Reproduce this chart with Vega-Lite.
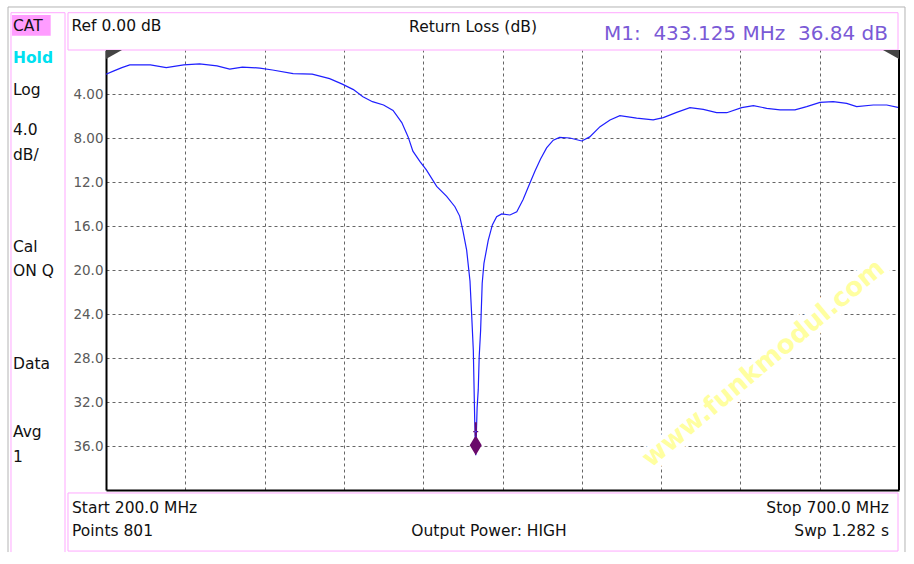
{
  "$schema": "https://vega.github.io/schema/vega-lite/v6.json",
  "width": 793,
  "height": 440,
  "autosize": {"type": "none"},
  "padding": {"left": 106, "top": 50, "right": 15, "bottom": 74},
  "background": "white",
  "config": {"view": {"stroke": null}, "font": "DejaVu Sans"},
  "datasets": {
    "trace": [
      {"f": 200, "db": 2.2}, {"f": 205, "db": 1.9}, {"f": 210, "db": 1.6}, {"f": 215, "db": 1.36},
      {"f": 228, "db": 1.36}, {"f": 238, "db": 1.6}, {"f": 249, "db": 1.36}, {"f": 259, "db": 1.27},
      {"f": 270, "db": 1.45}, {"f": 278, "db": 1.73}, {"f": 286, "db": 1.55}, {"f": 297, "db": 1.64},
      {"f": 305, "db": 1.82}, {"f": 318, "db": 2.15}, {"f": 330, "db": 2.2}, {"f": 341, "db": 2.6},
      {"f": 349, "db": 3.1}, {"f": 356, "db": 3.6}, {"f": 362, "db": 4.25}, {"f": 368, "db": 4.7},
      {"f": 375, "db": 5.0}, {"f": 381, "db": 5.5}, {"f": 386.5, "db": 6.6}, {"f": 390.5, "db": 7.9},
      {"f": 393.5, "db": 9.2}, {"f": 398, "db": 10.15}, {"f": 402, "db": 10.9}, {"f": 408.5, "db": 12.4},
      {"f": 414.8, "db": 13.3}, {"f": 420, "db": 14.25}, {"f": 423, "db": 15.1}, {"f": 425, "db": 16.4},
      {"f": 427.4, "db": 18.2}, {"f": 429.5, "db": 21.0}, {"f": 430.5, "db": 23.9}, {"f": 431.6, "db": 27.3},
      {"f": 432.5, "db": 33.8}, {"f": 433.125, "db": 36.84}, {"f": 434, "db": 32.5}, {"f": 434.7, "db": 30.9},
      {"f": 435.3, "db": 27.9}, {"f": 436.2, "db": 25.5}, {"f": 437.2, "db": 21.2}, {"f": 438.3, "db": 19.4},
      {"f": 441, "db": 17.3}, {"f": 443.6, "db": 15.9}, {"f": 446.3, "db": 15.15}, {"f": 449.5, "db": 14.9},
      {"f": 454.7, "db": 15.0}, {"f": 459, "db": 14.7}, {"f": 463, "db": 13.6}, {"f": 467.3, "db": 12.1},
      {"f": 470.5, "db": 11.0}, {"f": 474, "db": 9.9}, {"f": 477.8, "db": 8.9}, {"f": 482, "db": 8.2},
      {"f": 486, "db": 7.94}, {"f": 492.5, "db": 8.0}, {"f": 500, "db": 8.27}, {"f": 505, "db": 7.9},
      {"f": 511.5, "db": 6.97}, {"f": 517.8, "db": 6.36}, {"f": 524, "db": 5.97}, {"f": 534.6, "db": 6.2},
      {"f": 545, "db": 6.36}, {"f": 551.4, "db": 6.15}, {"f": 559.8, "db": 5.67}, {"f": 568.2, "db": 5.24},
      {"f": 576.6, "db": 5.4}, {"f": 585, "db": 5.7}, {"f": 591.4, "db": 5.7}, {"f": 600.8, "db": 5.24},
      {"f": 608.2, "db": 5.06}, {"f": 616.6, "db": 5.3}, {"f": 625, "db": 5.45}, {"f": 634.4, "db": 5.45},
      {"f": 641.8, "db": 5.15}, {"f": 650.2, "db": 4.76}, {"f": 658.5, "db": 4.7}, {"f": 667, "db": 4.85},
      {"f": 673.3, "db": 5.15}, {"f": 683.8, "db": 5.0}, {"f": 692.3, "db": 5.0}, {"f": 700, "db": 5.24}
    ],
    "marker": [{"f": 433.125, "db": 36.84}],
    "refL": [{"f": 200, "db": 0}],
    "refR": [{"f": 700, "db": 0}],
    "watermark": [{"label": "www.funkmodul.com", "f": 614.6, "db": 28.5}],
    "grayLines": [
      {"f": 138.21, "f2": 138.21, "db": -3.91, "db2": 45.64},
      {"f": 703.78, "f2": 703.78, "db": -3.91, "db2": 45.64},
      {"f": 138.21, "f2": 703.78, "db": -3.91, "db2": -3.91}
    ],
    "pinkLines": [
      {"f": 140.1, "f2": 140.1, "db": -3.39, "db2": 45.64},
      {"f": 174.15, "f2": 174.15, "db": -3.39, "db2": 45.64},
      {"f": 140.1, "f2": 174.15, "db": -3.39, "db2": -3.39}
    ],
    "pinkBoxes": [
      {"f": 176.04, "f2": 699.37, "db": -3.39, "db2": 0},
      {"f": 176.04, "f2": 699.37, "db": 40.27, "db2": 45.55}
    ],
    "catBg": [{"f": 140.73, "f2": 165.13, "db": -3.18, "db2": -1.3}],
    "notes": [
      {"role": "side", "label": "CAT", "f": 141.36, "db": -2.14},
      {"role": "hold", "label": "Hold", "f": 141.36, "db": 0.73},
      {"role": "side", "label": "Log", "f": 141.36, "db": 3.66},
      {"role": "side", "label": "4.0", "f": 141.36, "db": 7.27},
      {"role": "side", "label": "dB/", "f": 141.36, "db": 9.55},
      {"role": "side", "label": "Cal", "f": 141.36, "db": 17.9},
      {"role": "side", "label": "ON Q", "f": 141.36, "db": 20.1},
      {"role": "side", "label": "Data", "f": 141.36, "db": 28.55},
      {"role": "side", "label": "Avg", "f": 141.36, "db": 34.7},
      {"role": "side", "label": "1", "f": 141.36, "db": 37.0},
      {"role": "side", "label": "Ref 0.00 dB", "f": 178.25, "db": -2.14},
      {"role": "center", "label": "Return Loss (dB)", "f": 431.4, "db": -2.1},
      {"role": "readout", "label": "M1:\u00a0 433.125 MHz\u00a0 36.84 dB", "f": 693.06, "db": -1.41},
      {"role": "side", "label": "Start 200.0 MHz", "f": 178.56, "db": 41.6},
      {"role": "right", "label": "Stop 700.0 MHz", "f": 693.69, "db": 41.6},
      {"role": "side", "label": "Points 801", "f": 178.56, "db": 43.7},
      {"role": "center", "label": "Output Power: HIGH", "f": 441.49, "db": 43.7},
      {"role": "right", "label": "Swp 1.282 s", "f": 693.69, "db": 43.7}
    ]
  },
  "encoding": {
    "x": {"field": "f", "type": "quantitative",
      "scale": {"domain": [200, 700], "nice": false, "zero": false},
      "axis": {"title": null, "values": [250, 300, 350, 400, 450, 500, 550, 600, 650],
        "grid": true, "gridColor": "#666666", "gridDash": [3, 3], "gridWidth": 1,
        "labels": false, "ticks": false, "domain": true, "domainColor": "#000000", "domainWidth": 2}},
    "y": {"field": "db", "type": "quantitative",
      "scale": {"domain": [0, 40], "reverse": true, "nice": false, "zero": false},
      "axis": {"title": null, "values": [4, 8, 12, 16, 20, 24, 28, 32, 36],
        "labelExpr": "datum.value < 10 ? format(datum.value, '.2f') : format(datum.value, '.1f')",
        "grid": true, "gridColor": "#666666", "gridDash": [3, 3], "gridWidth": 1,
        "ticks": false, "labelPadding": 3, "labelColor": "#5a5a5a", "labelFontSize": 13.5,
        "labelFont": "DejaVu Sans", "domain": true, "domainColor": "#000000", "domainWidth": 2}}
  },
  "layer": [
    {
      "data": {"name": "watermark"},
      "mark": {"type": "text", "font": "DejaVu Sans", "fontWeight": "bold", "fontSize": 26, "angle": -40,
        "align": "center", "baseline": "middle", "fill": "#ffffff", "stroke": "#ffffff", "strokeWidth": 10},
      "encoding": {"text": {"field": "label"}}
    },
    {
      "data": {"name": "watermark"},
      "mark": {"type": "text", "font": "DejaVu Sans", "fontWeight": "bold", "fontSize": 26, "angle": -40,
        "align": "center", "baseline": "middle", "color": "#ffffa0"},
      "encoding": {"text": {"field": "label"}}
    },
    {
      "data": {"name": "trace"},
      "mark": {"type": "line", "color": "#1f1fff", "strokeWidth": 1.2}
    },
    {
      "data": {"name": "refR"},
      "mark": {"type": "rule", "color": "#000000", "strokeWidth": 2},
      "encoding": {"y": {"datum": 0, "type": "quantitative"}, "y2": {"datum": 40}}
    },
    {
      "data": {"name": "grayLines"},
      "mark": {"type": "rule", "color": "#b4b4b4", "strokeWidth": 1},
      "encoding": {"x2": {"field": "f2"}, "y2": {"field": "db2"}}
    },
    {
      "data": {"name": "pinkLines"},
      "mark": {"type": "rule", "color": "#ffa8ff", "strokeWidth": 1},
      "encoding": {"x2": {"field": "f2"}, "y2": {"field": "db2"}}
    },
    {
      "data": {"name": "pinkBoxes"},
      "mark": {"type": "rect", "filled": false, "color": "#ffa8ff", "strokeWidth": 1},
      "encoding": {"x2": {"field": "f2"}, "y2": {"field": "db2"}}
    },
    {
      "data": {"name": "catBg"},
      "mark": {"type": "rect", "color": "#ff9cff"},
      "encoding": {"x2": {"field": "f2"}, "y2": {"field": "db2"}}
    },
    {
      "data": {"name": "notes"},
      "transform": [{"filter": "datum.role === 'side'"}],
      "mark": {"type": "text", "align": "left", "baseline": "middle", "fontSize": 15.5, "font": "DejaVu Sans", "color": "#111111"},
      "encoding": {"text": {"field": "label"}}
    },
    {
      "data": {"name": "notes"},
      "transform": [{"filter": "datum.role === 'hold'"}],
      "mark": {"type": "text", "align": "left", "baseline": "middle", "fontSize": 15.5, "fontWeight": "bold", "font": "DejaVu Sans", "color": "#00e0f0"},
      "encoding": {"text": {"field": "label"}}
    },
    {
      "data": {"name": "notes"},
      "transform": [{"filter": "datum.role === 'center'"}],
      "mark": {"type": "text", "align": "center", "baseline": "middle", "fontSize": 15.5, "font": "DejaVu Sans", "color": "#111111"},
      "encoding": {"text": {"field": "label"}}
    },
    {
      "data": {"name": "notes"},
      "transform": [{"filter": "datum.role === 'right'"}],
      "mark": {"type": "text", "align": "right", "baseline": "middle", "fontSize": 15.5, "font": "DejaVu Sans", "color": "#111111"},
      "encoding": {"text": {"field": "label"}}
    },
    {
      "data": {"name": "notes"},
      "transform": [{"filter": "datum.role === 'readout'"}],
      "mark": {"type": "text", "align": "right", "baseline": "middle", "fontSize": 20, "font": "DejaVu Sans", "color": "#7a5ad6"},
      "encoding": {"text": {"field": "label"}}
    },
    {
      "data": {"name": "refL"},
      "mark": {"type": "point", "shape": "M0,0L1.6,0L0,0.9Z", "size": 400, "filled": true, "color": "#444444", "opacity": 1, "strokeWidth": 0}
    },
    {
      "data": {"name": "refR"},
      "mark": {"type": "point", "shape": "M0,0L-1.6,0L0,0.9Z", "size": 400, "filled": true, "color": "#444444", "opacity": 1, "strokeWidth": 0}
    },
    {
      "data": {"name": "marker"},
      "mark": {"type": "point", "shape": "M0,0L-0.6,-1L0,-2L0.6,-1Z M-0.1,-1.9L0.1,-1.9L0.1,-3.3L-0.1,-3.3Z M-0.25,-2.42L0.25,-2.42L0.25,-2.3L-0.25,-2.3Z", "size": 400, "filled": true, "color": "#6a0a6a", "opacity": 1, "strokeWidth": 0}
    }
  ]
}
